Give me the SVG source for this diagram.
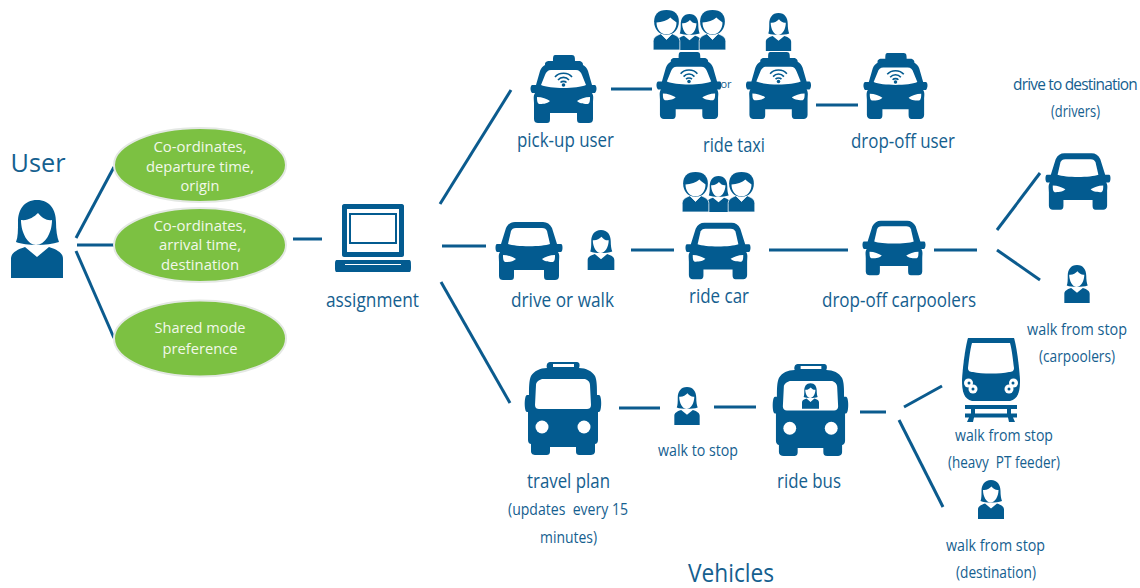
<svg xmlns="http://www.w3.org/2000/svg" xmlns:xlink="http://www.w3.org/1999/xlink" width="1140" height="588" viewBox="0 0 1140 588">
<style>
text{font-family:"Open Sans","Noto Sans","Liberation Sans",sans-serif;fill:#15608f;text-anchor:middle}
.l{font-size:20px}.m{font-size:16.5px}.w{font-size:15px;fill:#f2f8ea}
.c line{stroke:#0b5b8e;stroke-width:3;fill:none}
.e{fill:#7cc142;stroke:#e4e8e4;stroke-width:2}
.b{fill:#035b90}.h{fill:#fff}
</style>
<defs>
<symbol id="person" viewBox="0 0 52 78" overflow="visible">
<path class="b" d="M26 0C39 0 45 10 45 22C45 30 46 37 48 42C42 44 34 45 26 45C18 45 10 44 5 42C7 37 7 30 7 22C7 10 13 0 26 0Z"/>
<path class="h" d="M10 20C17 21 23 17 27 13C31 18 36 21 41 20C41 33 34 45 25 45C17 45 10 33 10 20Z"/>
<path class="b" d="M0 78V59C0 53 5 50 14 47L26 57L38 47C47 50 52 53 52 59V78Z"/>
</symbol>
<symbol id="man" viewBox="0 0 28 42" overflow="visible">
<path class="b" stroke="#fff" stroke-width="0.8" d="M0 42V33C0 29 3 27 8 25L14 31L20 25C25 27 28 29 28 33V42Z"/>
<path class="b" d="M14 0C23 0 27 5 27 12C27 20 22 26 14 26C6 26 1 20 1 12C1 5 5 0 14 0Z"/>
<path class="h" d="M3.500 13C9 13 15 11 18 8C21 11 23 12 24.500 13C24.500 20 20 25.500 14 25.500C8 25.500 3.500 20 3.500 13Z"/>
</symbol>
<symbol id="group" viewBox="0 0 73 40" overflow="visible">
<use xlink:href="#person" x="24" y="4" width="25" height="36"/>
<use xlink:href="#man" x="0" y="0" width="27" height="40"/>
<use xlink:href="#man" x="46" y="0" width="27" height="40"/>
</symbol>
<symbol id="car" viewBox="0 0 68 58" overflow="visible">
<path class="b" d="M20 0H48C52 0 55 2 57 6L62 22H66C68 22 68 29 66 30H63C65 33 64 36 64 40V54C64 57 62 58 60 58H52C50 58 49 57 49 54V48H19V54C19 57 18 58 16 58H8C6 58 4 57 4 54V40C4 36 3 33 5 30H2C0 29 0 22 2 22H6L11 6C13 2 16 0 20 0Z"/>
<path class="h" d="M21 6H47C50 6 51 7 52 9L55 22C47 25 21 25 13 22L16 9C17 7 18 6 21 6Z"/>
<path class="h" d="M8 33C13 33 18 35 21 37C18 40 13 40 10 40C8 39 8 36 8 33ZM60 33C55 33 50 35 47 37C50 40 55 40 58 40C60 39 60 36 60 33Z"/>
</symbol>
<symbol id="taxi" viewBox="0 0 67 68" overflow="visible">
<path class="b" d="M25 0H42C45 0 45 3 45 6H50C53 7 53 9 53 10C55 11 57 13 58 16L62 30H65C67 31 67 36 65 38H62C64 41 63 44 63 48V64C63 67 61 68 59 68H50C48 68 47 67 47 64V58H20V64C20 67 19 68 17 68H8C6 68 4 67 4 64V48C4 44 3 41 5 38H2C0 36 0 31 2 30H6L10 16C11 13 13 11 15 10C15 8 15 7 18 6H23C23 3 23 0 25 0Z"/>
<path class="h" d="M21 15H46C49 15 51 17 52 20L56 30C47 34 20 34 11 30L15 20C16 17 18 15 21 15Z"/>
<path class="h" d="M7 42C12 42 17 44 20 46C17 49 12 49 9 49C7 48 7 45 7 42ZM60 42C55 42 50 44 47 46C50 49 55 49 58 49C60 48 60 45 60 42Z"/>
<path d="M25 22C29 17 38 17 42 22M28 25C31 21.500 36 21.500 39 25M30.500 27.500C32 26 35 26 36.500 27.500" fill="none" stroke="#035b90" stroke-width="1.6"/>
<circle class="b" cx="33.500" cy="30" r="1.800"/>
</symbol>
<symbol id="bus" viewBox="0 0 78 93" overflow="visible">
<path class="b" d="M26 0H53C56 0 56 4 55 6C62 6 68 9 71 14C73 18 73 26 73 33H75C78 33 78 50 75 50H74V78C74 81 72 82 71 82V89C71 92 69 93 66 93H56C53 93 52 92 52 89V85H26V89C26 92 25 93 22 93H12C9 93 7 92 7 89V82C6 82 4 81 4 78V50H3C0 50 0 33 3 33H5C5 26 5 18 7 14C10 9 16 6 23 6C22 4 23 0 26 0Z"/>
<path class="h" d="M29 2H50V5H29ZM18 17H61C64 18 66 20 66 23L67 43C67 46 65 47 63 47H15C13 47 11 46 11 43L12 23C12 20 15 18 18 17Z"/>
<circle class="h" cx="18" cy="65" r="6.500"/><circle class="h" cx="60" cy="65" r="6.500"/>
</symbol>
<symbol id="train" viewBox="0 0 58 84" overflow="visible">
<path class="b" d="M6 0H52C54 6 57 25 58 42C58 54 56 61 48 63H10C2 61 0 54 0 42C1 25 4 6 6 0Z"/>
<path class="h" d="M10 5H48C50 12 51 22 52 30C52 33 50 34 47 34C38 36 20 36 11 34C8 34 6 33 6 30C7 22 8 12 10 5Z"/>
<circle class="h" cx="6.500" cy="45" r="4.500"/><circle class="h" cx="11" cy="51" r="4.500"/>
<circle class="h" cx="51.500" cy="45" r="4.500"/><circle class="h" cx="47" cy="51" r="4.500"/>
<circle class="b" cx="7" cy="45" r="1.500"/><circle class="b" cx="11" cy="51" r="1.500"/>
<circle class="b" cx="51" cy="45" r="1.500"/><circle class="b" cx="47" cy="51" r="1.500"/>
<path class="b" d="M3 67H55V71H49V75.500H55V79.500H51L53 84H47L46 79.500H12L11 84H5L7 79.500H3V75.500H9V71H3Z"/>
<rect class="h" x="13" y="71" width="32" height="4.500"/>
</symbol>
</defs>
<g id="connectors" class="c">
<line x1="76" y1="238" x2="114" y2="167"/><line x1="77" y1="245" x2="114" y2="245"/><line x1="76" y1="251" x2="114" y2="338"/>
<line x1="293" y1="239" x2="322" y2="239"/>
<line x1="440" y1="204" x2="511" y2="90"/><line x1="442" y1="246" x2="486" y2="246"/><line x1="441" y1="282" x2="510" y2="403"/>
<line x1="611" y1="89" x2="652" y2="89"/><line x1="816" y1="105" x2="858" y2="105"/>
<line x1="631" y1="250" x2="674" y2="250"/><line x1="769" y1="250" x2="848" y2="250"/><line x1="934" y1="250" x2="977" y2="250"/>
<line x1="997" y1="230" x2="1040" y2="173"/><line x1="997" y1="250" x2="1040" y2="280"/>
<line x1="619" y1="408" x2="660" y2="408"/><line x1="714" y1="407" x2="756" y2="407"/><line x1="860" y1="412" x2="886" y2="412"/>
<line x1="904" y1="407" x2="942" y2="386"/><line x1="899" y1="420" x2="943" y2="507"/>
</g>
<g id="user"><text x="38" y="172" font-size="26" textLength="55" lengthAdjust="spacingAndGlyphs">User</text><use xlink:href="#person" x="11" y="200" width="52" height="78"/></g>
<g id="input-departure"><ellipse class="e" cx="200" cy="165" rx="86" ry="37"/>
<text class="w" x="200" y="152" textLength="93" lengthAdjust="spacingAndGlyphs">Co-ordinates,</text><text class="w" x="200" y="172" textLength="108" lengthAdjust="spacingAndGlyphs">departure time,</text><text class="w" x="200" y="191" textLength="39" lengthAdjust="spacingAndGlyphs">origin</text></g>
<g id="input-arrival"><ellipse class="e" cx="200" cy="245" rx="86" ry="37"/>
<text class="w" x="200" y="231" textLength="93" lengthAdjust="spacingAndGlyphs">Co-ordinates,</text><text class="w" x="200" y="250" textLength="82" lengthAdjust="spacingAndGlyphs">arrival time,</text><text class="w" x="200" y="270" textLength="78" lengthAdjust="spacingAndGlyphs">destination</text></g>
<g id="input-mode"><ellipse class="e" cx="200" cy="338.500" rx="86" ry="38"/>
<text class="w" x="200" y="333" textLength="91" lengthAdjust="spacingAndGlyphs">Shared mode</text><text class="w" x="200" y="354" textLength="75" lengthAdjust="spacingAndGlyphs">preference</text></g>
<g id="assignment">
<path class="b" fill-rule="evenodd" d="M344 204H402C403 204 404 205 404 206V255C404 256 403 257 402 257H344C343 257 342 256 342 255V206C342 205 343 204 344 204ZM347 209V252H399V209Z"/>
<path class="b" fill-rule="evenodd" d="M349 213H397V244H349ZM351 215V242H395V215Z"/>
<path class="b" fill-rule="evenodd" d="M337 260H409C411 260 411 262 411 266C411 270 411 272 409 272H337C335 272 335 270 335 266C335 262 335 260 337 260ZM345 264V265H401V264Z"/>
<text class="l" x="372.500" y="307" textLength="93" lengthAdjust="spacingAndGlyphs">assignment</text></g>
<g id="pick-up"><use xlink:href="#taxi" x="530" y="55" width="67" height="68"/><text class="l" x="565.500" y="147" textLength="97" lengthAdjust="spacingAndGlyphs">pick-up user</text></g>
<g id="ride-taxi">
<use xlink:href="#group" x="653" y="10" width="73" height="40"/><use xlink:href="#person" x="765" y="13" width="27" height="38"/>
<use xlink:href="#taxi" x="656" y="52" width="66" height="67"/><use xlink:href="#taxi" x="745" y="52" width="67" height="67"/>
<text x="726" y="88" font-size="11">or</text>
<text class="l" x="734" y="152" textLength="62" lengthAdjust="spacingAndGlyphs">ride taxi</text></g>
<g id="drop-off-user"><use xlink:href="#taxi" x="863" y="52" width="65" height="68"/><text class="l" x="903" y="148" textLength="104" lengthAdjust="spacingAndGlyphs">drop-off user</text></g>
<g id="drive-to-destination"><text x="1075" y="90" font-size="15.500" letter-spacing="-0.8" textLength="124" lengthAdjust="spacingAndGlyphs">drive to destination</text><text class="m" x="1075.500" y="117" textLength="49" lengthAdjust="spacingAndGlyphs">(drivers)</text><use xlink:href="#car" x="1045" y="152" width="66" height="59"/></g>
<g id="drive-or-walk"><use xlink:href="#car" x="495" y="222" width="68" height="58"/><use xlink:href="#person" x="587" y="230" width="28" height="40"/><text class="l" x="562.500" y="307" textLength="103" lengthAdjust="spacingAndGlyphs">drive or walk</text></g>
<g id="ride-car"><use xlink:href="#group" x="682" y="172" width="73" height="40"/><use xlink:href="#car" x="685" y="222" width="66" height="58"/><text class="l" x="719" y="303" textLength="60" lengthAdjust="spacingAndGlyphs">ride car</text></g>
<g id="drop-off-carpoolers"><use xlink:href="#car" x="862" y="218" width="64" height="60"/><text class="l" x="899" y="307" textLength="154" lengthAdjust="spacingAndGlyphs">drop-off carpoolers</text></g>
<g id="walk-carpoolers"><use xlink:href="#person" x="1063" y="265" width="28" height="38"/><text class="m" x="1077" y="335" textLength="100" lengthAdjust="spacingAndGlyphs">walk from stop</text><text class="m" x="1077" y="362" textLength="76" lengthAdjust="spacingAndGlyphs">(carpoolers)</text></g>
<g id="travel-plan"><use xlink:href="#bus" x="524" y="362" width="78" height="93"/><text class="l" x="568.500" y="488" textLength="83" lengthAdjust="spacingAndGlyphs">travel plan</text><text class="m" x="568" y="515" textLength="120" lengthAdjust="spacingAndGlyphs" xml:space="preserve">(updates  every 15</text><text class="m" x="568.500" y="543" textLength="57" lengthAdjust="spacingAndGlyphs">minutes)</text></g>
<g id="walk-to-stop"><use xlink:href="#person" x="673" y="387" width="28" height="38"/><text class="m" x="698" y="456" textLength="80" lengthAdjust="spacingAndGlyphs">walk to stop</text></g>
<g id="ride-bus"><use xlink:href="#bus" x="772" y="364" width="77" height="92"/><use xlink:href="#person" x="802" y="382" width="17" height="28"/><text class="l" x="809" y="488" textLength="64" lengthAdjust="spacingAndGlyphs">ride bus</text></g>
<g id="heavy-pt"><use xlink:href="#train" x="962" y="338" width="58" height="84"/><text class="m" x="1004" y="441" textLength="98" lengthAdjust="spacingAndGlyphs">walk from stop</text><text class="m" x="1004" y="468" textLength="112" lengthAdjust="spacingAndGlyphs" xml:space="preserve">(heavy  PT feeder)</text></g>
<g id="walk-destination"><use xlink:href="#person" x="977" y="480" width="28" height="39"/><text class="m" x="995.500" y="551" textLength="99" lengthAdjust="spacingAndGlyphs">walk from stop</text><text class="m" x="996" y="578" textLength="80" lengthAdjust="spacingAndGlyphs">(destination)</text></g>
<text x="731" y="582" font-size="25" textLength="86" lengthAdjust="spacingAndGlyphs">Vehicles</text>
</svg>
